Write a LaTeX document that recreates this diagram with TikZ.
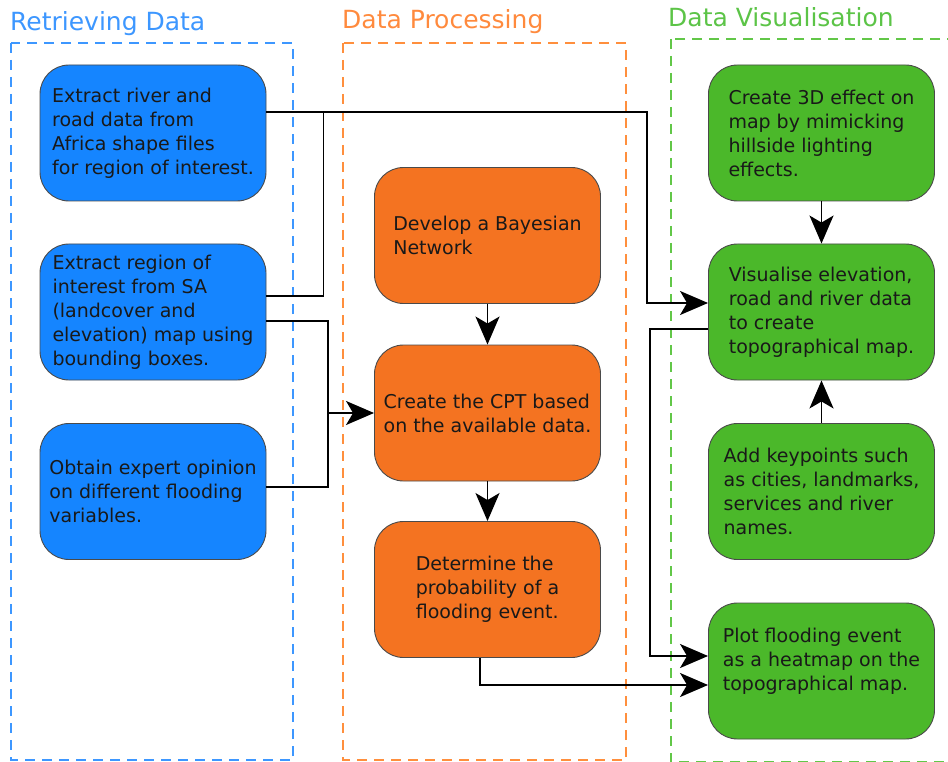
\documentclass[tikz,border=0pt]{standalone}
\usepackage{fontspec}
\setmainfont{DejaVu Sans}
\usetikzlibrary{arrows.meta,calc}
\definecolor{bfill}{HTML}{1585FF}
\definecolor{ofill}{HTML}{F47321}
\definecolor{gfill}{HTML}{4BB82A}
\definecolor{btitle}{HTML}{3D97FF}
\definecolor{otitle}{HTML}{FF8A3D}
\definecolor{gtitle}{HTML}{5CC447}
\definecolor{bdash}{HTML}{3D97FF}
\definecolor{odash}{HTML}{FF8F3D}
\definecolor{gdash}{HTML}{62C748}
\definecolor{edge}{HTML}{4A4A4A}
\begin{document}
\begin{tikzpicture}[x=1pt,y=-1pt,
  box/.style={draw=edge,line width=0.9pt,rounded corners=29pt,minimum width=226pt,
    minimum height=136pt,inner sep=0pt,align=left,font=\fontsize{19pt}{24pt}\selectfont,text=black!90},
  bbox/.style={box,fill=bfill},
  obox/.style={box,fill=ofill},
  gbox/.style={box,fill=gfill},
  grp/.style={dash pattern=on 10pt off 7pt,line width=2.8pt},
  title/.style={anchor=base west,inner sep=0pt,font=\fontsize{25pt}{30pt}\selectfont},
  conn/.style={line width=1.8pt,black},
  arr/.style={conn,-{Stealth[length=28pt,width=24pt,inset=7pt]}}]
\clip (0,0) rectangle (948,762);
\fill[white] (0,0) rectangle (948,762);
% group frames
\draw[grp,bdash] (11,43) rectangle (293,760);
\draw[grp,odash] (343,43) rectangle (626,760);
\draw[grp,gdash] (671,39) rectangle (975,762);
% titles
\node[title,text=btitle] (t1) at (10,31) {Retrieving Data};
\node[title,text=otitle] (t2) at (342,29) {Data Processing};
\node[title,text=gtitle] (t3) at (668,27) {Data Visualisation};
% nodes
\node[bbox] (B1) at (153,133) {Extract river and\\road data from\\Africa shape files\\for region of interest.};
\node[bbox] (B2) at (153,312) {Extract region of\\interest from SA\\(landcover and\\elevation) map using\\bounding boxes.};
\node[bbox] (B3) at (153,491.5) {Obtain expert opinion\\on different flooding\\variables.};
\node[obox] (O1) at (487.5,235.5) {Develop a Bayesian\\Network};
\node[obox] (O2) at (487.5,413) {Create the CPT based\\on the available data.};
\node[obox] (O3) at (487.5,589.5) {Determine the\\probability of a\\flooding event.};
\node[gbox] (G1) at (821.5,133) {Create 3D effect on\\map by mimicking\\hillside lighting\\effects.};
\node[gbox] (G2) at (821.5,312) {Visualise elevation,\\road and river data\\to create\\topographical map.};
\node[gbox] (G3) at (821.5,491.5) {Add keypoints such\\as cities, landmarks,\\services and river\\names.};
\node[gbox] (G4) at (821.5,671) {Plot flooding event\\as a heatmap on the\\topographical map.\\\mbox{}};
% connectors
\draw[arr] ([yshift=21pt]B1.east) -| ([xshift=-61pt,yshift=9pt]G2.west) -- ([yshift=9pt]G2.west);
\draw[conn] ([yshift=16pt]B2.east) -| ([xshift=57pt,yshift=21pt]B1.east);
\draw[arr] ([yshift=-9pt]B2.east) -| ([xshift=-46pt]O2.west) -- (O2.west);
\draw[conn] ([yshift=4.5pt]B3.east) -| ([xshift=-46pt]O2.west);
\draw[arr] ([yshift=-17pt]G2.west) -| ([xshift=-58pt,yshift=15pt]G4.west) -- ([yshift=15pt]G4.west);
\draw[arr] ([xshift=-7.5pt]O3.south) |- ([yshift=-14pt]G4.west);
\draw[arr] (O1.south) -- (O2.north);
\draw[arr] (O2.south) -- (O3.north);
\draw[arr] (G1.south) -- (G2.north);
\draw[arr] (G3.north) -- (G2.south);
\end{tikzpicture}
\end{document}
